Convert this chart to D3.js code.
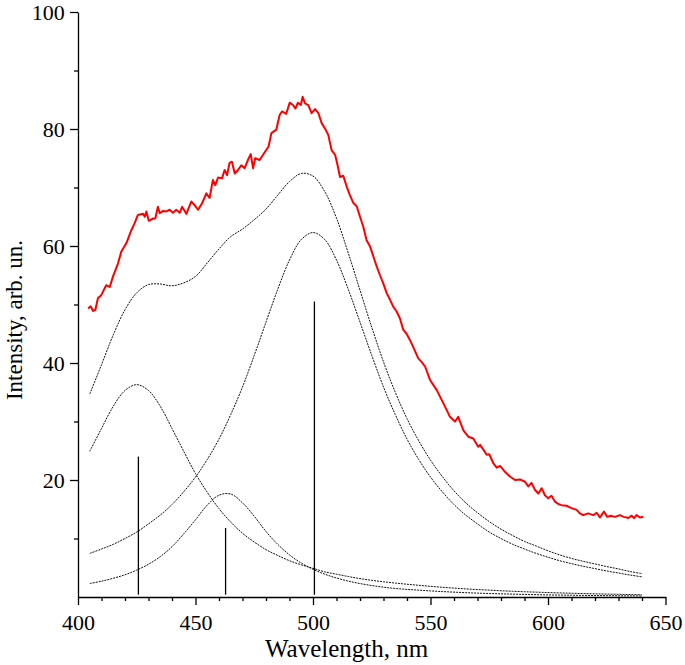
<!DOCTYPE html>
<html><head><meta charset="utf-8">
<script src="https://cdn.jsdelivr.net/npm/d3@7"></script>
<style>body{margin:0;background:#fff}text{font-family:"Liberation Serif","Times New Roman",serif}</style>
</head><body><svg id="c" width="685" height="665"></svg>
<script>
// Fitted component wavelengths (nm)
const wl = [405,410,415,420,425,430,435,440,445,450,455,460,465,470,475,480,485,490,495,500,505,510,515,520,525,530,535,540,545,550,555,560,565,570,575,580,585,590,595,600,605,610,615,620,625,630,635,640];
const comp1 = [24.9,28.8,32.6,35.3,36.3,35.3,32.6,28.8,24.9,21.1,17.9,15.1,12.8,10.9,9.4,8.1,7.1,6.2,5.5,4.9,4.3,3.9,3.5,3.15,2.85,2.6,2.38,2.18,2.0,1.82,1.66,1.52,1.39,1.27,1.17,1.07,0.98,0.9,0.83,0.76,0.7,0.64,0.59,0.54,0.5,0.46,0.42,0.38];
const comp2 = [2.3,2.7,3.2,3.8,4.6,5.6,6.9,8.6,10.8,13.2,15.7,17.4,17.6,16.1,13.8,11.2,9.0,7.2,5.8,4.75,3.9,3.25,2.72,2.3,1.96,1.68,1.46,1.3,1.17,1.04,0.93,0.83,0.74,0.66,0.6,0.54,0.49,0.44,0.4,0.36,0.33,0.3,0.27,0.25,0.23,0.21,0.19,0.17];
const comp3 = [7.45,8.2,9.0,10.0,11.1,12.5,14.0,15.8,18.0,20.5,23.5,27.0,31.2,35.9,41.3,47.0,52.6,57.6,61.1,62.3,61.1,57.6,52.6,47.0,41.3,35.9,31.2,27.0,23.5,20.5,18.0,15.8,14.0,12.5,11.1,10.0,9.0,8.2,7.45,6.8,6.2,5.7,5.25,4.85,4.45,4.1,3.75,3.45];
const fitSum = [34.7,39.7,44.8,49.1,52.0,53.4,53.5,53.2,53.7,54.8,57.1,59.5,61.6,62.9,64.5,66.3,68.7,71.0,72.4,71.95,69.3,64.75,58.8,52.45,46.1,40.2,35.0,30.5,26.7,23.4,20.6,18.15,16.1,14.4,12.9,11.6,10.5,9.5,8.7,7.9,7.2,6.6,6.1,5.65,5.2,4.8,4.35,4.0];

// Measured spectrum (red)
const measWl = [404.3,405.4,406.4,407.4,408.5,409.9,412.0,413.5,414.9,417.0,418.4,420.6,422.7,424.1,425.5,427.7,428.4,429.1,430.1,432.0,432.9,434.0,434.8,436.2,437.6,439.0,440.4,441.8,443.3,444.3,446.1,448.2,449.6,451.1,452.8,454.6,456.0,457.4,458.4,459.6,461.3,462.4,463.4,464.5,465.5,466.7,468.1,469.5,470.9,472.3,473.5,474.5,475.4,477.3,479.1,481.1,482.3,484.4,485.8,486.8,488.6,490.1,491.5,492.5,493.6,494.8,495.6,496.6,498.0,499.4,500.9,502.3,503.7,505.1,506.5,507.9,509.4,510.3,511.5,512.9,514.3,515.7,517.1,518.6,520.0,521.4,522.8,524.3,525.7,527.1,528.5,529.9,531.4,532.8,534.2,535.6,537.0,538.4,539.8,541.3,543.0,544.8,546.2,547.7,549.8,552.6,555.5,558.3,560.4,561.8,564.0,566.1,568.2,570.3,571.1,572.5,573.9,575.0,576.7,578.2,579.6,581.7,583.8,586.0,588.1,590.2,591.6,593.0,594.5,595.9,597.3,598.7,600.1,601.5,603.0,604.4,605.8,607.9,610.0,612.2,613.6,615.0,617.1,619.3,620.7,622.1,623.8,625.2,626.6,628.5,630.6,632.3,634.2,635.6,636.6,637.7,639.1,640.6];
const measI = [49.3,49.7,48.9,49.1,51.1,51.6,53.3,53.0,54.8,57.0,59.0,60.5,62.7,63.9,65.3,65.5,65.0,65.9,64.3,64.7,64.7,66.7,65.6,66.0,65.9,66.2,65.7,66.2,65.7,66.7,65.5,67.6,67.0,66.2,67.3,69.0,68.2,71.3,70.4,71.7,71.6,73.0,72.1,74.2,74.4,72.4,73.0,73.8,73.3,74.7,75.7,73.3,75.0,74.7,75.8,77.0,79.3,79.9,82.4,83.0,82.6,84.5,84.1,83.5,84.5,84.1,85.5,84.4,84.1,82.7,83.4,82.7,81.0,80.1,79.0,76.4,75.6,74.1,71.8,72.0,70.2,68.7,67.4,66.8,65.0,63.3,61.0,59.9,58.2,56.5,55.0,53.6,51.9,50.8,49.6,48.8,47.6,45.7,45.0,43.9,42.4,40.8,40.2,39.4,37.1,35.4,33.1,30.8,30.0,30.8,28.5,27.4,27.1,25.7,26.0,25.2,24.3,24.4,22.9,22.1,22.4,21.4,20.6,20.0,20.1,19.7,18.9,19.5,18.3,17.7,18.6,17.4,16.9,17.3,16.3,15.9,15.7,15.6,15.2,14.9,14.3,14.0,14.3,14.0,14.4,13.6,14.6,13.7,13.9,13.7,14.0,13.7,13.5,13.9,13.5,14.0,13.6,13.7];

// Peak positions (sticks)
const stickWl = [425.7, 462.8, 500.6];
const stickTop = [24.0, 11.8, 50.5];
const stickBase = 0.4;

const xMajor = [400,450,500,550,600,650];
const xMinor = [410,420,430,440,460,470,480,490,510,520,530,540,560,570,580,590,610,620,630,640];
const yMajor = [20,40,60,80,100];
const yMinor = [10,30,50,70,90];

const svg = d3.select("#c");
const x = d3.scaleLinear().domain([400,650]).range([78,665.5]);
const y = d3.scaleLinear().domain([0,100]).range([597,12]);

// Axes
const xa = svg.append("g").attr("transform","translate(0,597)");
xa.call(d3.axisBottom(x).tickValues(xMajor).tickSize(8).tickSizeOuter(0).tickFormat(d3.format("d")));
const xm = svg.append("g").attr("transform","translate(0,597)");
xm.call(d3.axisBottom(x).tickValues(xMinor).tickSize(4).tickSizeOuter(0).tickFormat(""));
xm.select(".domain").remove();
const ya = svg.append("g").attr("transform","translate(78,0)");
ya.call(d3.axisLeft(y).tickValues(yMajor).tickSize(8).tickSizeOuter(0).tickFormat(d3.format("d")));
const ym = svg.append("g").attr("transform","translate(78,0)");
ym.call(d3.axisLeft(y).tickValues(yMinor).tickSize(4).tickSizeOuter(0).tickFormat(""));
ym.select(".domain").remove();
svg.selectAll(".domain,.tick line").attr("stroke","#000").attr("stroke-width",1.3);
xa.selectAll("text").attr("font-size",22).attr("font-family","Liberation Serif").attr("fill","#000").attr("dy","1.0em");
ya.selectAll("text").attr("font-size",22).attr("font-family","Liberation Serif").attr("fill","#000").attr("dx","-0.1em");

svg.append("text").attr("x",265).attr("y",657).attr("text-anchor","start")
  .attr("font-size",25).attr("fill","#000").text("Wavelength, nm");
svg.append("text").attr("transform","translate(22,320) rotate(-90)").attr("text-anchor","middle")
  .attr("font-size",23).attr("fill","#000").text("Intensity, arb. un.");

// Components
const line = d3.line().x(d=>x(d[0])).y(d=>y(d[1])).curve(d3.curveCatmullRom.alpha(0.5));
[comp1, comp2, comp3, fitSum].forEach(s=>{
  svg.append("path").attr("d", line(wl.map((w,i)=>[w,s[i]])))
    .attr("fill","none").attr("stroke","#111").attr("stroke-width",1).attr("stroke-dasharray","2,1");
});

// Sticks
stickWl.forEach((w,i)=>{
  svg.append("line").attr("x1",x(w)).attr("x2",x(w)).attr("y1",y(stickBase)).attr("y2",y(stickTop[i]))
    .attr("stroke","#000").attr("stroke-width",1.3);
});

// Measured
const mline = d3.line().x(d=>x(d[0])).y(d=>y(d[1]));
svg.append("path").attr("d", mline(measWl.map((w,i)=>[w,measI[i]])))
  .attr("fill","none").attr("stroke","#f00").attr("stroke-width",2).attr("stroke-linejoin","round");
</script></body></html>
